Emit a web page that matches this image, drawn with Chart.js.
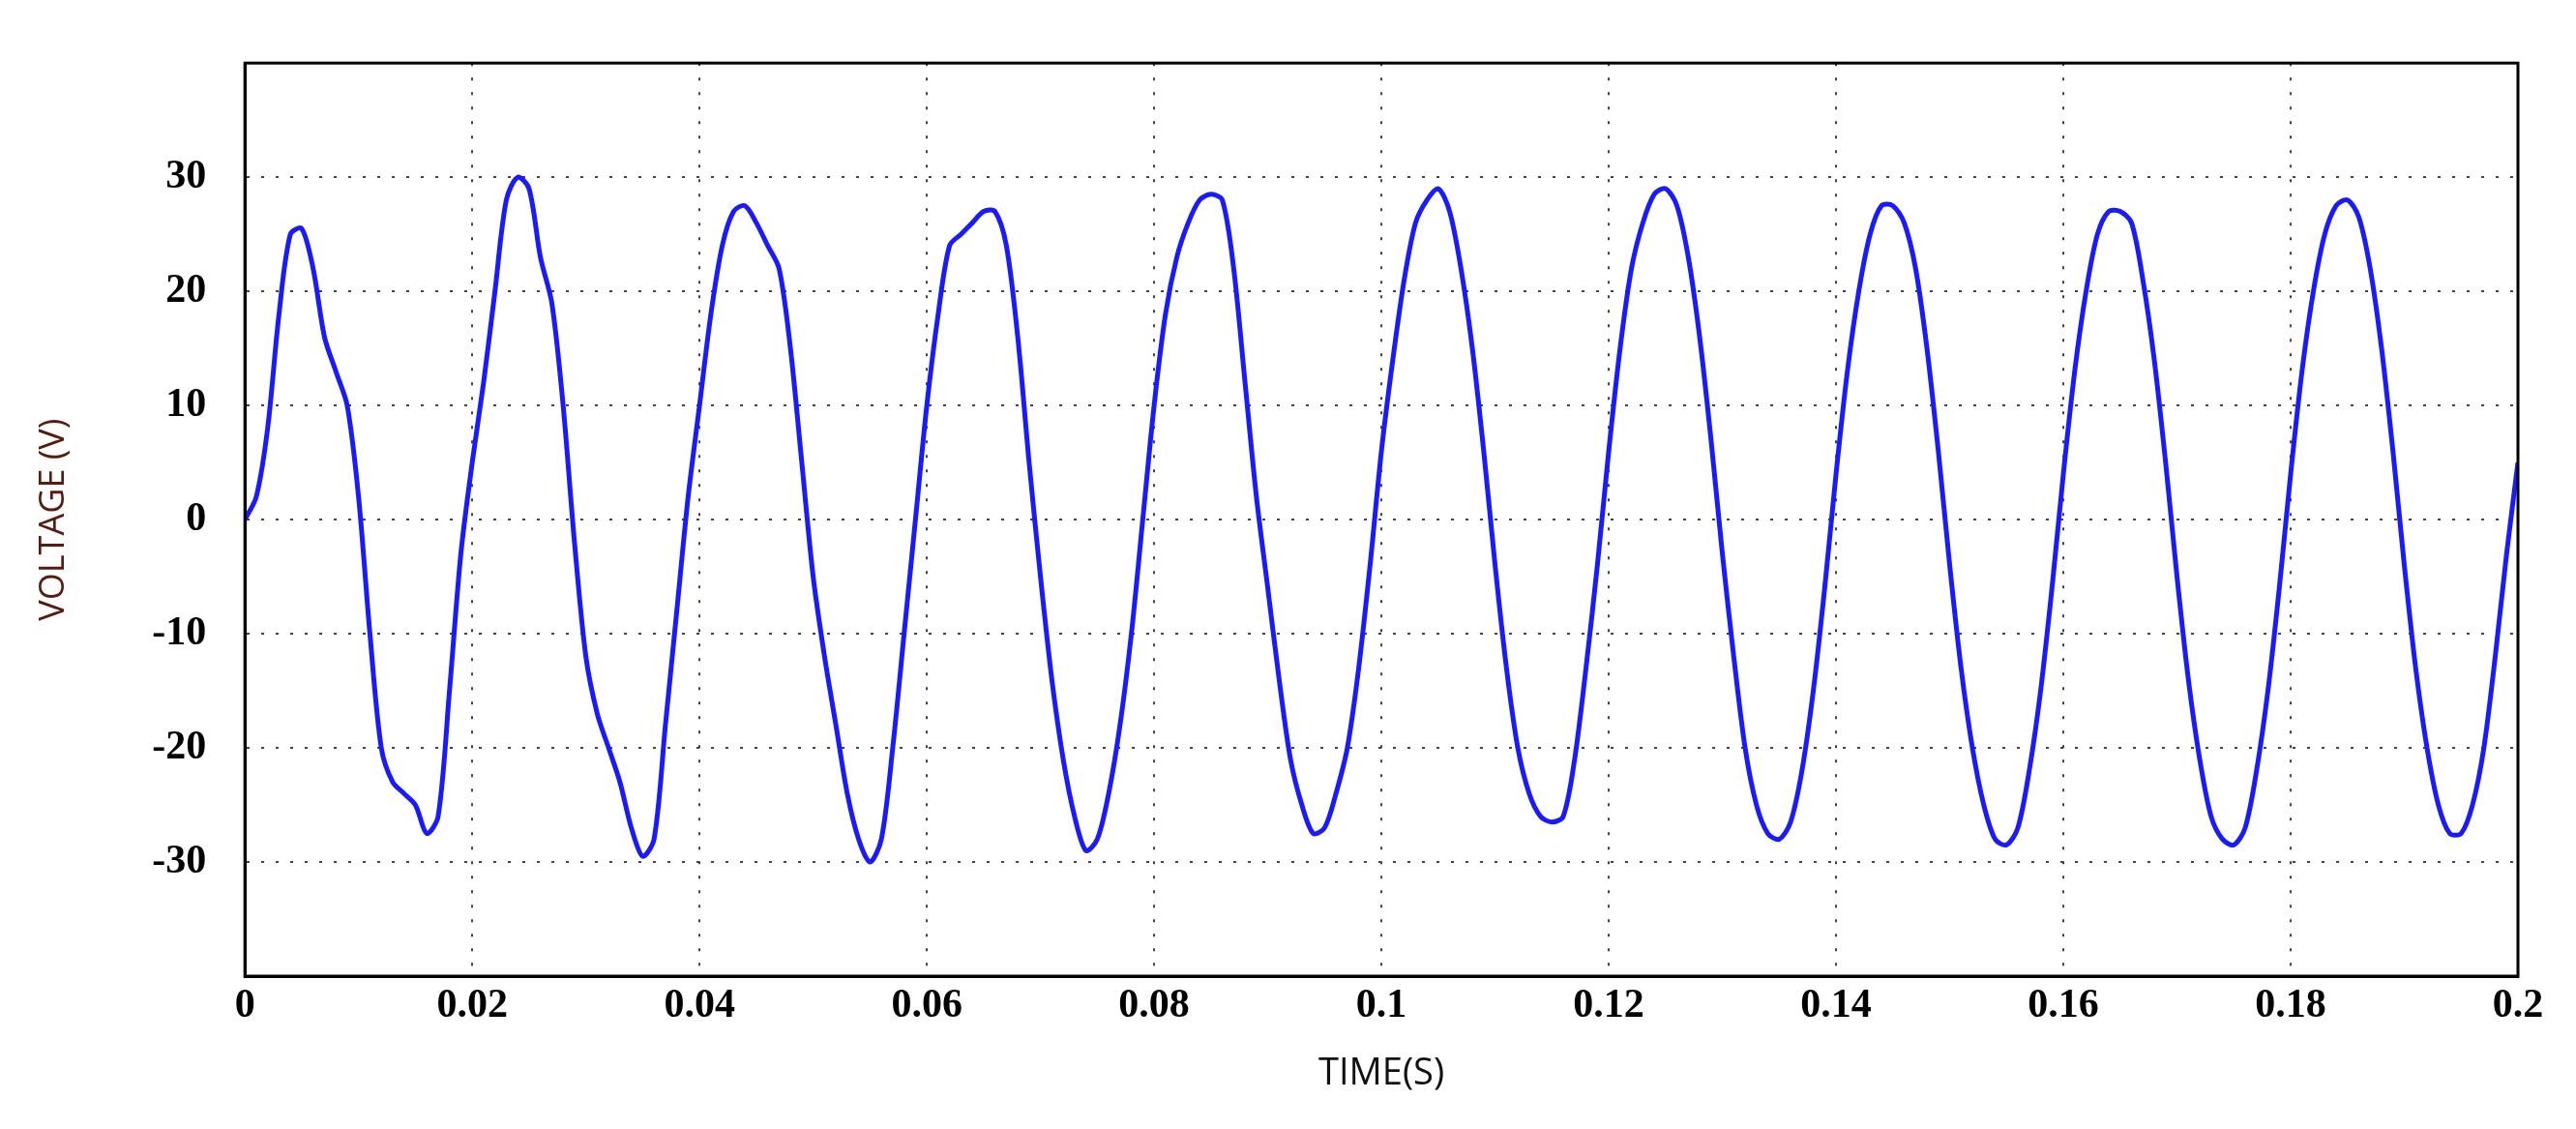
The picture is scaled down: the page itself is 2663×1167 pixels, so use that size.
<!DOCTYPE html>
<html><head><meta charset="utf-8">
<script src="https://cdn.jsdelivr.net/npm/chart.js@4/dist/chart.umd.min.js"></script>
<style>html,body{margin:0;padding:0;background:#fff}#w{width:2663px;height:1167px}</style>
</head><body><div id="w"><canvas id="c"></canvas></div>
<script>
const timeStart = 0, timeStep = 0.001;
const voltage = [
0,2,8,18,25,25.5,22,16,13,10,
2,-10,-20,-23,-24,-25,-27.5,-26,-15,-3,
5,12,20,28,30,29,23,19,10,-2,
-12,-17,-20,-23,-27,-29.5,-28,-18,-8,2,
10,18,24,27,27.5,26,24,22,15,5,
-5,-12,-18,-24,-28,-30,-28,-20,-10,0,
10,18,24,25,26,27,27,24,16,5,
-5,-14,-21,-26,-29,-28,-24,-18,-10,0,
10,18,23,26,28,28.5,28,22,12,2,
-6,-14,-21,-25,-27.5,-27,-24,-20,-13,-4,
6,14,21,26,28,29,27,22,15,6,
-4,-13,-20,-24,-26,-26.5,-26,-21,-13,-4,
6,15,22,26,28.5,29,27.5,23,16,7,
-3,-12,-20,-25,-27.5,-28,-26.5,-22,-15,-6,
4,13,20,25,27.5,27.5,26,22,15,6,
-4,-13,-20,-25,-28,-28.5,-27,-22,-15,-6,
4,13,20,25,27,27,26,21,14,5,
-5,-14,-21,-26,-28,-28.5,-27,-22,-15,-6,
4,13,20,25,27.5,28,26.5,22,15,6,
-4,-13,-20,-25,-27.5,-27.5,-25,-20,-12,-3,
5];
const xTickLabels = ['0','0.02','0.04','0.06','0.08','0.1','0.12','0.14','0.16','0.18','0.2'];
const yTickLabels = ['-30','-20','-10','0','10','20','30'];
const pts = voltage.map((v,i)=>({x:+(timeStart+i*timeStep).toFixed(3), y:v}));
new Chart(document.getElementById('c'),{
 type:'line',
 data:{datasets:[{data:pts,borderColor:'#1a1aff',borderWidth:5,pointRadius:0,tension:0.3,fill:false}]},
 options:{responsive:true,maintainAspectRatio:false,animation:false,
  layout:{padding:{left:30,right:60,top:42,bottom:30}},
  plugins:{legend:{display:false},tooltip:{enabled:false}},
  scales:{
   x:{type:'linear',min:0,max:0.2,
     ticks:{stepSize:0.02,color:'#000',font:{family:'Liberation Serif',size:42,weight:'bold'},padding:6,
       callback:(v,i)=>xTickLabels[i]},
     grid:{color:'#444',lineWidth:2,drawTicks:false},
     border:{color:'#000',width:3,dash:[3,12]},
     title:{display:true,text:'TIME(S)',color:'#111',font:{family:'Open Sans',size:38},padding:{top:16}}},
   y:{min:-40,max:40,
     ticks:{stepSize:10,color:'#000',font:{family:'Liberation Serif',size:42,weight:'bold'},padding:40,
       callback:v=>yTickLabels.includes(String(v))?String(v):''},
     grid:{color:'#444',lineWidth:2,drawTicks:false},
     border:{color:'#000',width:3,dash:[3,12]},
     title:{display:true,text:'VOLTAGE (V)',color:'#5a1a10',font:{family:'Open Sans',size:36},padding:{bottom:40}}}
  }},
 plugins:[{id:'frame',afterDraw(ch){const a=ch.chartArea,c=ch.ctx;c.save();c.strokeStyle='#000';c.lineWidth=3;c.setLineDash([]);c.strokeRect(a.left,a.top,a.right-a.left,a.bottom-a.top);c.restore();}}]
});
</script></body></html>
